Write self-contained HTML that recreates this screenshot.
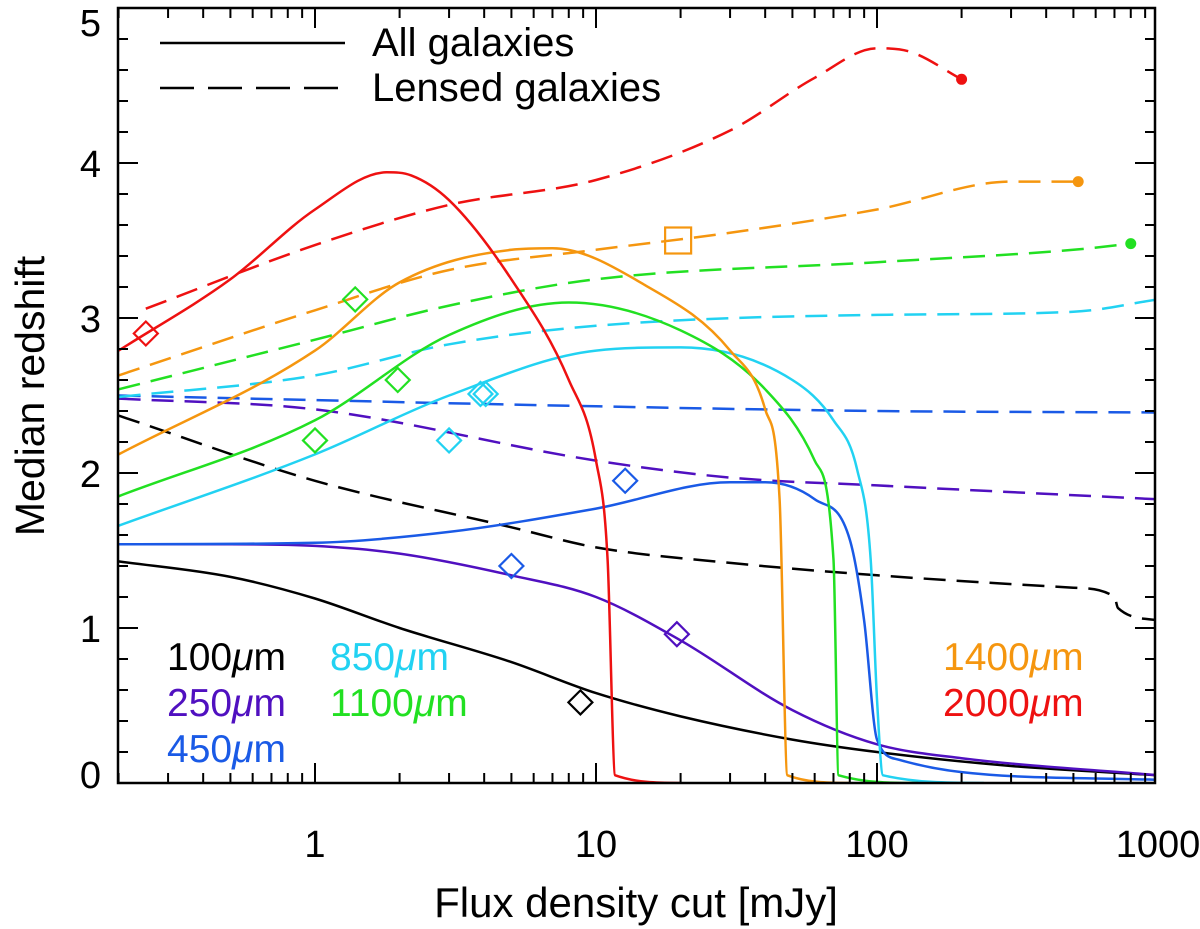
<!DOCTYPE html>
<html><head><meta charset="utf-8"><style>
html,body{margin:0;padding:0;background:#fff;}
svg{display:block;font-family:"Liberation Sans",sans-serif;}
</style></head><body>
<svg id="chart" width="1200" height="929" viewBox="0 0 1200 929" xmlns="http://www.w3.org/2000/svg">
<g id="plot"></g>
<g id="axes"></g>
<text x="636" y="917" font-size="42" text-anchor="middle">Flux density cut [mJy]</text>
<text x="0" y="0" font-size="41" text-anchor="middle" transform="translate(44,396) rotate(-90)">Median redshift</text>
<g>
<line x1="160" y1="43" x2="345" y2="43" stroke="#000" stroke-width="2.5"/>
<text x="372" y="56" font-size="40">All galaxies</text>
<line x1="160" y1="88" x2="345" y2="88" stroke="#000" stroke-width="2.5" stroke-dasharray="34,14"/>
<text x="372" y="101" font-size="40">Lensed galaxies</text>
</g>
<g font-size="39">
<text x="167" y="670" fill="#000">100<tspan font-style="italic">μ</tspan>m</text>
<text x="167" y="716" fill="#5010c0">250<tspan font-style="italic">μ</tspan>m</text>
<text x="167" y="762" fill="#1a5ae6">450<tspan font-style="italic">μ</tspan>m</text>
<text x="330" y="670" fill="#22d2f2">850<tspan font-style="italic">μ</tspan>m</text>
<text x="330" y="716" fill="#22e022">1100<tspan font-style="italic">μ</tspan>m</text>
<text x="943" y="670" fill="#f5960f">1400<tspan font-style="italic">μ</tspan>m</text>
<text x="943" y="716" fill="#ee1111">2000<tspan font-style="italic">μ</tspan>m</text>
</g>
</svg>
<script>
const NS="http://www.w3.org/2000/svg";
const xTicks=[1,10,100,1000];
const xTickLabels=["1","10","100","1000"];
const yTicks=[0,1,2,3,4,5];
const yTickLabels=["0","1","2","3","4","5"];
const bands=["100","250","450","850","1100","1400","2000"];
const bandColors=["#000000","#5010c0","#1a5ae6","#22d2f2","#22e022","#f5960f","#ee1111"];
const allX100=[0.2,0.5,1,2,5,10,20,50,100,300,1000];
const allZ100=[1.43,1.33,1.19,1.0,0.78,0.58,0.43,0.28,0.2,0.11,0.05];
const allX250=[0.2,0.5,1,2,5,10,20,50,100,200,1000];
const allZ250=[1.54,1.54,1.53,1.48,1.34,1.2,0.92,0.47,0.25,0.16,0.05];
const allX450=[0.2,1,3,10,30,40,60,80,90,100,120,200,1000];
const allZ450=[1.54,1.55,1.62,1.77,1.94,1.94,1.83,1.57,1.05,0.28,0.15,0.07,0.02];
const allX850=[0.2,1,3,10,20,50,70,85,95,100,105,240];
const allZ850=[1.66,2.12,2.5,2.79,2.81,2.6,2.34,2.02,1.44,0.54,0.05,0.0];
const allX1100=[0.2,1,3,8,20,40,60,70,73,140];
const allZ1100=[1.85,2.34,2.89,3.1,2.92,2.54,2.08,1.44,0.05,0.0];
const allX1400=[0.2,1,2,5,7,15,30,40,45,48,80];
const allZ1400=[2.12,2.79,3.23,3.44,3.45,3.21,2.79,2.41,1.83,0.05,0.0];
const allX2000=[0.2,0.5,1,1.8,2.2,3,5,8,10,11,11.7,20];
const allZ2000=[2.79,3.25,3.7,3.94,3.92,3.76,3.25,2.6,2.08,1.44,0.05,0.0];
const lensX100=[0.2,1,5,10,30,100,500,700,720,1000];
const lensZ100=[2.37,1.95,1.65,1.52,1.42,1.34,1.26,1.2,1.13,1.05];
const lensX250=[0.2,1,10,30,100,1000];
const lensZ250=[2.48,2.41,2.08,1.97,1.92,1.83];
const lensX450=[0.2,1,10,100,1000];
const lensZ450=[2.5,2.47,2.43,2.4,2.39];
const lensX850=[0.2,1,3,10,100,500,1000];
const lensZ850=[2.49,2.63,2.83,2.95,3.02,3.04,3.12];
const lensX1100=[0.2,1,3,10,100,500,800];
const lensZ1100=[2.54,2.86,3.08,3.25,3.36,3.44,3.48];
const lensX1400=[0.2,1,3,10,30,100,300,520];
const lensZ1400=[2.63,3.05,3.31,3.44,3.55,3.7,3.88,3.88];
const lensX2000=[0.25,1,3,10,30,60,100,130,200];
const lensZ2000=[3.06,3.47,3.73,3.89,4.21,4.55,4.74,4.72,4.54];
const endDotBands=[6,5,4];
const endDotX=[200,520,800];
const endDotZ=[4.54,3.88,3.48];
const diamondBands=[6,4,4,4,3,3,3,2,2,1,0];
const diamondX=[0.25,1.39,1.97,1.0,3.0,3.88,4.05,12.7,5.0,19.4,8.8];
const diamondZ=[2.9,3.12,2.6,2.21,2.21,2.51,2.51,1.95,1.4,0.96,0.52];
const squareX=[19.6];
const squareZ=[3.5];

const X0=118,X1=1155,Y0=783,Y1=8;
const px=v=>315+281*Math.log10(v);
const py=v=>Y0-155*v;
const plot=document.getElementById('plot'), axes=document.getElementById('axes');
function mk(tag,attrs,parent){const e=document.createElementNS(NS,tag);for(const k in attrs)e.setAttribute(k,attrs[k]);parent.appendChild(e);return e;}
const clip=mk('clipPath',{id:'cp'},document.getElementById('chart'));
mk('rect',{x:X0,y:Y1-2,width:X1-X0,height:Y0-Y1+2},clip);
plot.setAttribute('clip-path','url(#cp)');
function smoothPath(P){
  const n=P.length; if(n<3) return P.map((p,i)=>(i?'L':'M')+p[0]+','+p[1]).join(' ');
  const d=[],m=new Array(n);
  for(let i=0;i<n-1;i++) d.push((P[i+1][1]-P[i][1])/(P[i+1][0]-P[i][0]));
  m[0]=d[0]; m[n-1]=d[n-2];
  for(let i=1;i<n-1;i++){ m[i]=(d[i-1]*d[i]<=0)?0:(d[i-1]+d[i])/2; }
  for(let i=0;i<n-1;i++){
    if(d[i]===0){m[i]=0;m[i+1]=0;continue;}
    const a=m[i]/d[i],b=m[i+1]/d[i],s=a*a+b*b;
    if(s>9){const t=3/Math.sqrt(s);m[i]=t*a*d[i];m[i+1]=t*b*d[i];}
  }
  let s='M'+P[0][0].toFixed(1)+','+P[0][1].toFixed(1);
  for(let i=0;i<n-1;i++){
    const h=(P[i+1][0]-P[i][0])/3;
    s+=` C${(P[i][0]+h).toFixed(1)},${(P[i][1]+m[i]*h).toFixed(1)} ${(P[i+1][0]-h).toFixed(1)},${(P[i+1][1]-m[i+1]*h).toFixed(1)} ${P[i+1][0].toFixed(1)},${P[i+1][1].toFixed(1)}`;
  }
  return s;
}
function curve(xs,zs,ci,dashed,name){
  const P=xs.map((x,i)=>[px(x),py(zs[i])]);
  const p=mk('path',{d:smoothPath(P),fill:'none',stroke:bandColors[ci],'stroke-width':2.5,'stroke-linejoin':'round'},plot);
  if(dashed)p.setAttribute('stroke-dasharray','22,11');
  
  
}
const allX=[allX100,allX250,allX450,allX850,allX1100,allX1400,allX2000];
const allZ=[allZ100,allZ250,allZ450,allZ850,allZ1100,allZ1400,allZ2000];
const lensX=[lensX100,lensX250,lensX450,lensX850,lensX1100,lensX1400,lensX2000];
const lensZ=[lensZ100,lensZ250,lensZ450,lensZ850,lensZ1100,lensZ1400,lensZ2000];
for(let i=0;i<7;i++){
  curve(lensX[i],lensZ[i],i,true,'lensed-curve-'+bands[i]+'um');
  curve(allX[i],allZ[i],i,false,'all-curve-'+bands[i]+'um');
}
endDotX.forEach((x,i)=>{
  const c=mk('circle',{cx:px(x),cy:py(endDotZ[i]),r:5.5,fill:bandColors[endDotBands[i]]},plot);
  
  
});
diamondX.forEach((x,i)=>{
  const cx=px(x),cy=py(diamondZ[i]),r=12;
  const p=mk('path',{d:`M${cx},${cy-r} L${cx+r},${cy} L${cx},${cy+r} L${cx-r},${cy} Z`,fill:'none',stroke:bandColors[diamondBands[i]],'stroke-width':2.2},plot);
  
  
});
squareX.forEach((x,i)=>{
  const cx=px(x),cy=py(squareZ[i]);
  const r=mk('rect',{x:cx-13,y:cy-13,width:26,height:26,fill:'none',stroke:bandColors[5],'stroke-width':2.2},plot);
  
  
});
const fr=mk('rect',{x:X0,y:Y1,width:X1-X0,height:Y0-Y1,fill:'none',stroke:'#000','stroke-width':2.5},axes);


for(let dec=-1;dec<3;dec++){
  for(let m=1;m<10;m++){
    const v=m*Math.pow(10,dec); if(v<0.2) continue;
    const x=px(v); const L=(m===1)?20:10;
    mk('line',{x1:x,y1:Y0,x2:x,y2:Y0-L,stroke:'#000','stroke-width':2},axes);
    mk('line',{x1:x,y1:Y1,x2:x,y2:Y1+L,stroke:'#000','stroke-width':2},axes);
  }
}
xTicks.forEach((v,i)=>{
  const t=mk('text',{x:px(v),y:857,'font-size':38,'text-anchor':'middle'},axes);
  t.textContent=xTickLabels[i];
  
  
});
for(let k=0;k<=25;k++){
  const y=py(k*0.2); const L=(k%5===0)?20:10;
  mk('line',{x1:X0,y1:y,x2:X0+L,y2:y,stroke:'#000','stroke-width':2},axes);
  mk('line',{x1:X1,y1:y,x2:X1-L,y2:y,stroke:'#000','stroke-width':2},axes);
}
yTicks.forEach((v,i)=>{
  const t=mk('text',{x:101,y:Math.min(py(v)+14,788),'font-size':38,'text-anchor':'end'},axes);
  if(v===5) t.setAttribute('y',py(v)+28);
  t.textContent=yTickLabels[i];
  
  
});
</script>
</body></html>
